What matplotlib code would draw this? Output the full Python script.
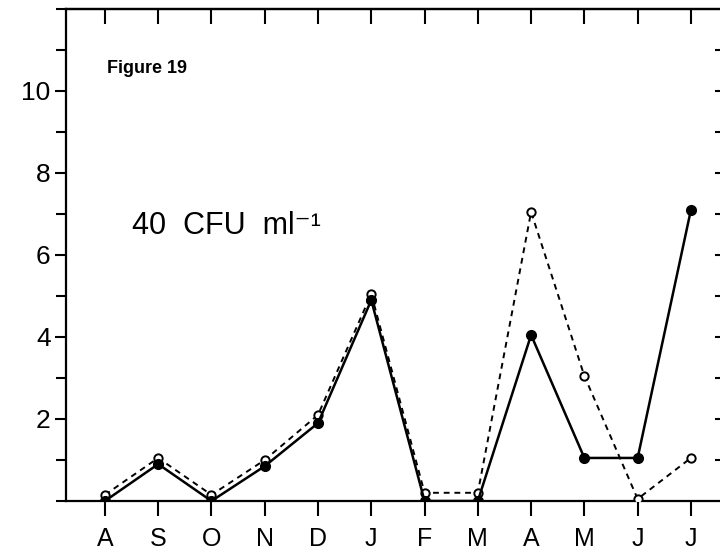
import numpy as np
import matplotlib
matplotlib.use("Agg")
import matplotlib.pyplot as plt
from matplotlib.ticker import MultipleLocator

plt.rcParams['font.family'] = ['Liberation Sans', 'DejaVu Sans']

# months from August to July
months = ['A', 'S', 'O', 'N', 'D', 'J', 'F', 'M', 'A', 'M', 'J', 'J']
# filled circles, solid line
filled = [0.0, 0.9, 0.0, 0.85, 1.9, 4.9, 0.0, 0.0, 4.05, 1.05, 1.05, 7.1]
# open circles, dashed line
open_ = [0.15, 1.05, 0.15, 1.0, 2.1, 5.05, 0.2, 0.2, 7.05, 3.05, 0.05, 1.05]

x = np.arange(len(months))

fig = plt.figure(figsize=(7.2, 5.55), dpi=100)
ax = fig.add_axes([0.0917, 0.0973, 0.916, 0.8865])

ax.plot(x, open_, ls=(0, (3, 2.5)), color='black', lw=1.4, marker='o', ms=6,
        mfc='white', mec='black', mew=1.4, zorder=3)
ax.plot(x, filled, ls='-', color='black', lw=1.8, marker='o', ms=7,
        mfc='black', mec='black', zorder=4)

ax.set_xlim(-0.73, 11.65)
ax.set_ylim(0, 12)

ax.set_xticks(x)
ax.set_xticklabels(months, fontsize=18)
ax.set_yticks([2, 4, 6, 8, 10])
ax.set_yticklabels(['2', '4', '6', '8', '10'], fontsize=19)
ax.yaxis.set_minor_locator(MultipleLocator(1))

for s in ax.spines.values():
    s.set_linewidth(1.6)

ax.tick_params(axis='x', which='major', direction='out', length=11, width=1.5,
               pad=8, top=False)
ax.tick_params(axis='y', which='both', direction='out', length=8, width=1.5,
               pad=3, right=False)
ax.tick_params(axis='y', which='minor', length=7)

# top ticks inward, right ticks inward
ax2 = ax.secondary_xaxis('top')
ax2.set_xticks(x)
ax2.set_xticklabels([])
ax2.tick_params(direction='in', length=11, width=1.5)
ax3 = ax.secondary_yaxis('right')
ax3.set_yticks(np.arange(1, 12))
ax3.set_yticklabels([])
ax3.tick_params(direction='in', length=8, width=1.5)
for a in (ax2, ax3):
    for s in a.spines.values():
        s.set_linewidth(1.6)

ax.text(0.03, 10.55, 'Figure 19', fontsize=13, fontweight='semibold',
        ha='left', va='center')
ax.text(0.5, 6.7, '40  CFU  ml⁻¹', fontsize=22, ha='left', va='center')

fig.savefig('out.png', dpi=100)
